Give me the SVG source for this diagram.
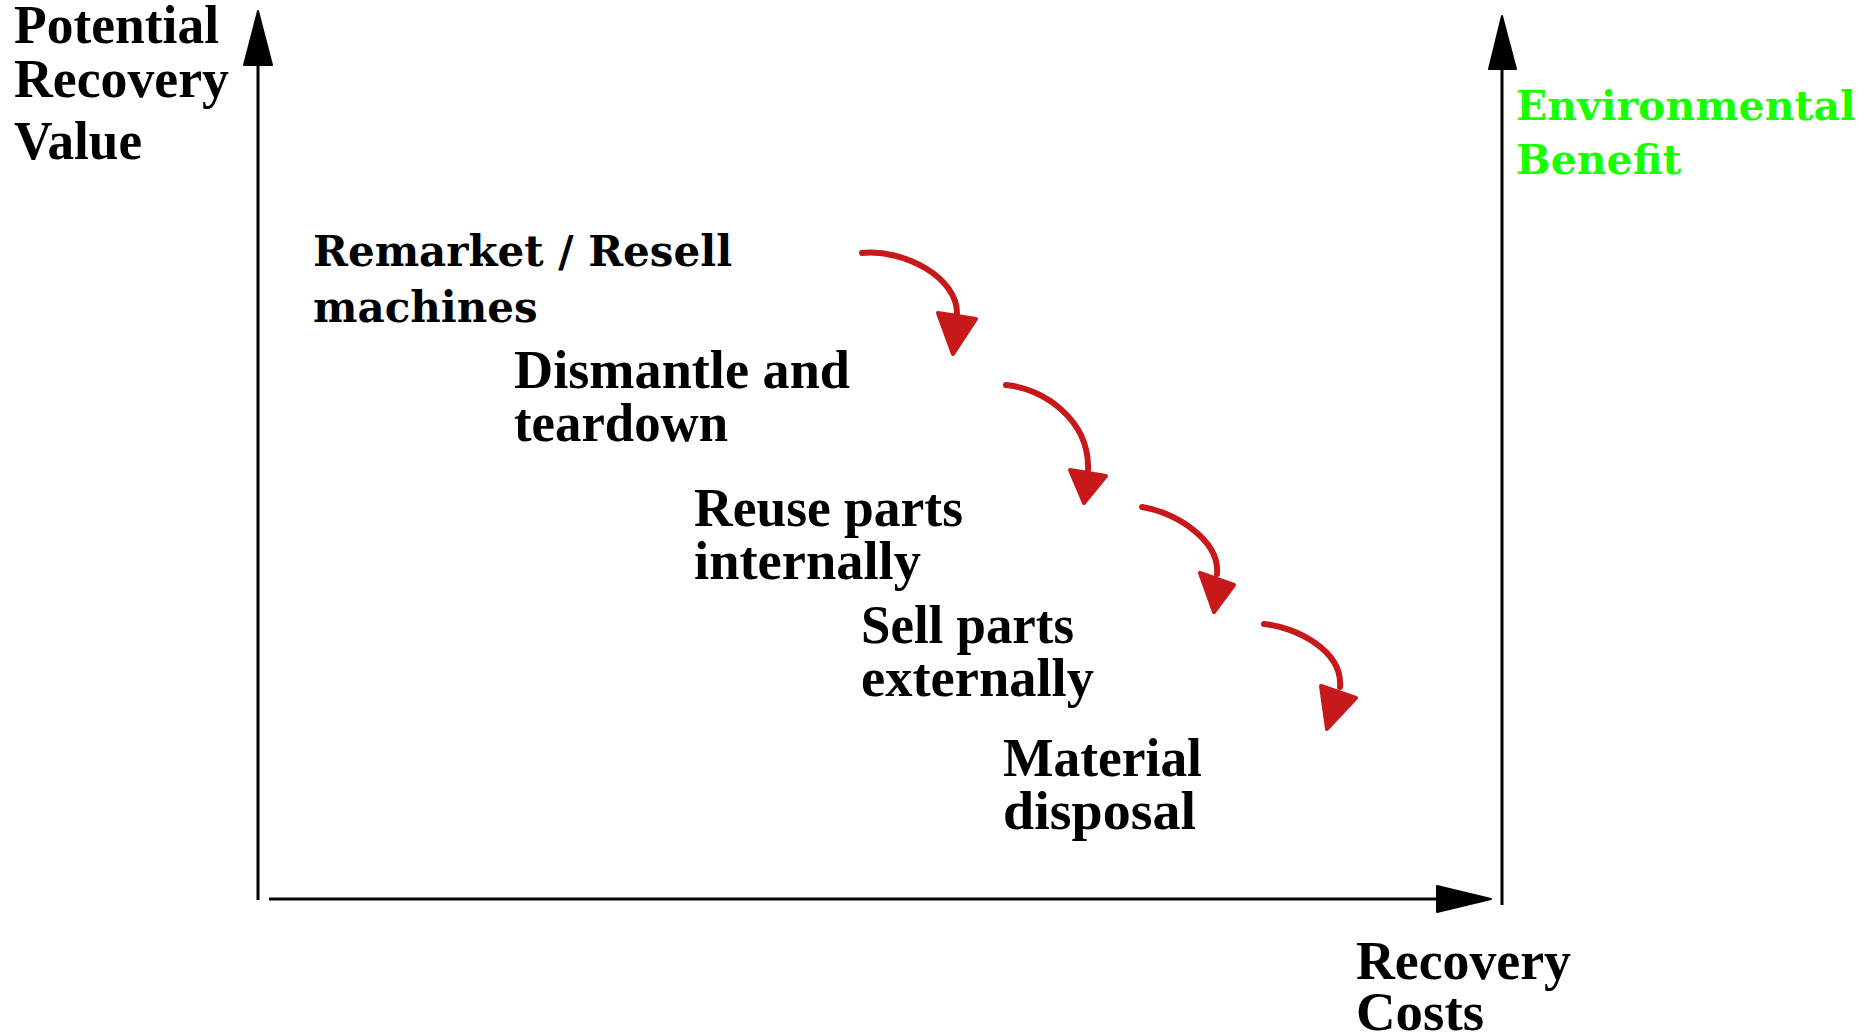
<svg xmlns="http://www.w3.org/2000/svg" width="1876" height="1035" viewBox="0 0 1876 1035">
  <style>
    .lbl { font-family: "Liberation Serif", "Times New Roman", serif; font-weight: bold; font-size: 54px; fill: #000; }
    .slab { font-family: "DejaVu Serif", serif; font-weight: bold; font-size: 42px; }
    .env { fill: #19ff00; font-size: 41px; }
    .axis { stroke: #000; stroke-width: 3; fill: none; }
    .axhead { fill: #000; stroke: #000; stroke-width: 2; stroke-linejoin: round; }
    .flow { stroke: #c8191a; stroke-width: 6; fill: none; stroke-linecap: round; }
    .flowhead { fill: #c8191a; stroke: #c8191a; stroke-width: 4; stroke-linejoin: round; }
  </style>
  <rect width="1876" height="1035" fill="#fff"/>

  <!-- axes -->
  <g id="axes">
    <line class="axis" x1="258" y1="64" x2="258" y2="900"/>
    <polygon class="axhead" points="258,11 244,65 272,65"/>
    <line class="axis" x1="269" y1="899" x2="1438" y2="899"/>
    <polygon class="axhead" points="1491,899 1437,886 1437,912"/>
    <line class="axis" x1="1502" y1="68" x2="1502" y2="905"/>
    <polygon class="axhead" points="1502,16 1489,69 1516,69"/>
  </g>

  <!-- axis titles -->
  <g id="y-axis-title">
    <text class="lbl" x="14" y="43" textLength="205" lengthAdjust="spacingAndGlyphs">Potential</text>
    <text class="lbl" x="14" y="97" textLength="215" lengthAdjust="spacingAndGlyphs">Recovery</text>
    <text class="lbl" x="14" y="159" textLength="128" lengthAdjust="spacingAndGlyphs">Value</text>
  </g>
  <g id="x-axis-title">
    <text class="lbl" x="1356" y="979" textLength="215" lengthAdjust="spacingAndGlyphs">Recovery</text>
    <text class="lbl" x="1356" y="1030" textLength="128" lengthAdjust="spacingAndGlyphs">Costs</text>
  </g>
  <g id="benefit-axis-title">
    <text class="slab env" x="1516" y="120">Environmental</text>
    <text class="slab env" x="1516" y="174">Benefit</text>
  </g>

  <!-- recovery options, highest value first -->
  <g id="remarket">
    <text class="slab" x="313" y="266">Remarket / Resell</text>
    <text class="slab" x="313" y="322">machines</text>
  </g>
  <g id="dismantle">
    <text class="lbl" x="514" y="388" textLength="336" lengthAdjust="spacingAndGlyphs">Dismantle and</text>
    <text class="lbl" x="514" y="441" textLength="214" lengthAdjust="spacingAndGlyphs">teardown</text>
  </g>
  <g id="reuse">
    <text class="lbl" x="694" y="526" textLength="269" lengthAdjust="spacingAndGlyphs">Reuse parts</text>
    <text class="lbl" x="694" y="579" textLength="227" lengthAdjust="spacingAndGlyphs">internally</text>
  </g>
  <g id="sell">
    <text class="lbl" x="861" y="643" textLength="213" lengthAdjust="spacingAndGlyphs">Sell parts</text>
    <text class="lbl" x="861" y="696" textLength="233" lengthAdjust="spacingAndGlyphs">externally</text>
  </g>
  <g id="disposal">
    <text class="lbl" x="1003" y="776" textLength="199" lengthAdjust="spacingAndGlyphs">Material</text>
    <text class="lbl" x="1003" y="829" textLength="193" lengthAdjust="spacingAndGlyphs">disposal</text>
  </g>

  <!-- step arrows between options -->
  <g id="connectors">
    <path class="flow" d="M862,253 C905,249 958,278 957,314"/>
    <polygon class="flowhead" points="938,313 976,319 953,354"/>
    <path class="flow" d="M1006,385 C1043,388 1090,420 1088,470"/>
    <polygon class="flowhead" points="1070,470 1106,476 1084,503"/>
    <path class="flow" d="M1142,507 C1175,512 1220,540 1217,574"/>
    <polygon class="flowhead" points="1200,573 1234,585 1214,612"/>
    <path class="flow" d="M1264,624 C1295,627 1343,650 1340,687"/>
    <polygon class="flowhead" points="1321,686 1356,698 1327,729"/>
  </g>
</svg>
